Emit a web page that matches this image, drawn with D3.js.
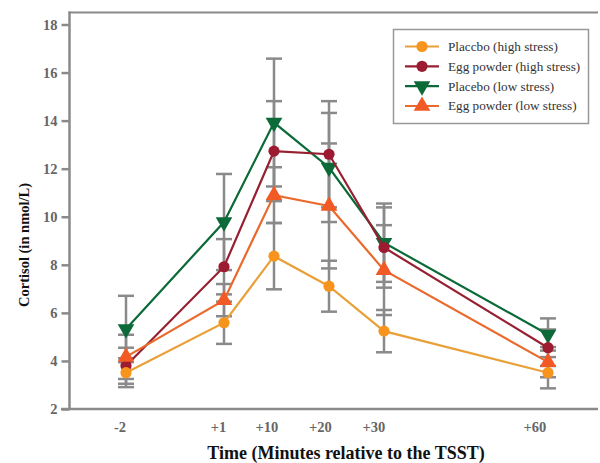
<!DOCTYPE html>
<html>
<head>
<meta charset="utf-8">
<script src="https://cdn.jsdelivr.net/npm/d3@7"></script>
<style>
  html, body { margin: 0; padding: 0; background: #fff; }
  svg { display: block; }
</style>
</head>
<body>
<svg id="chart" width="600" height="463"></svg>
<script>
// ---- data ----
const times = ["-2", "+1", "+10", "+20", "+30", "+60"];
const yTicks = [2, 4, 6, 8, 10, 12, 14, 16, 18];

const placeboHigh     = [3.51, 5.59, 8.36, 7.11, 5.24, 3.51];
const placeboHighErr  = [0.60, 0.88, 1.38, 1.06, 0.88, 0.65];
const eggHigh         = [3.80, 7.92, 12.73, 12.60, 8.72, 4.55];
const eggHighErr      = [0.75, 1.15, 2.08, 2.21, 1.67, 0.76];
const placeboLow      = [5.33, 9.78, 13.92, 12.05, 8.92, 5.10];
const placeboLowErr   = [1.38, 2.00, 2.66, 2.27, 1.63, 0.67];
const eggLow          = [4.17, 6.53, 10.90, 10.45, 7.78, 3.95];
const eggLowErr       = [0.92, 0.67, 1.16, 2.60, 1.87, 0.63];

const seriesNames = ["Placcbo (high stress)", "Egg powder (high stress)", "Placebo (low stress)", "Egg powder (low stress)"];

// ---- setup ----
const svg = d3.select("#chart");
const axisColor = "#8a8a8a";
const serif = "'Liberation Serif', 'Times New Roman', serif";

const x = d3.scaleOrdinal().domain(times).range([126, 224, 274, 329, 384, 548]);
const xLabel = d3.scaleOrdinal().domain(times).range([120, 218.5, 267, 320.5, 374, 535]);
const y = d3.scaleLinear().domain([2, 18]).range([409, 24.5]);

const series = [
  { name: seriesNames[2], values: placeboLow, errs: placeboLowErr, color: "#0b6a38", line: "#0b6a38", shape: "down" },
  { name: seriesNames[1], values: eggHigh, errs: eggHighErr, color: "#9c1b30", line: "#962031", shape: "circle" },
  { name: seriesNames[3], values: eggLow, errs: eggLowErr, color: "#f15a24", line: "#ea6a2c", shape: "up" },
  { name: seriesNames[0], values: placeboHigh, errs: placeboHighErr, color: "#f7941d", line: "#e9a038", shape: "circle" }
];

// ---- axes ----
const yAxis = d3.axisLeft(y).tickValues(yTicks).tickSize(8).tickPadding(4).tickFormat(d3.format("d"));
const yg = svg.append("g").attr("transform", "translate(69.5,0)").call(yAxis);
yg.select(".domain").remove();
yg.selectAll(".tick line").attr("stroke", axisColor).attr("stroke-width", 2.5);
yg.selectAll(".tick text")
  .attr("fill", "#666").attr("font-family", serif).attr("font-weight", "bold").attr("font-size", 14.5)
  .attr("dy", "0.34em");

// frame lines
svg.append("line").attr("x1", 69.5).attr("x2", 69.5).attr("y1", 11.5).attr("y2", 410)
  .attr("stroke", axisColor).attr("stroke-width", 2.5);
svg.append("line").attr("x1", 68.5).attr("x2", 598).attr("y1", 12.5).attr("y2", 12.5)
  .attr("stroke", axisColor).attr("stroke-width", 2);
svg.append("line").attr("x1", 61).attr("x2", 598).attr("y1", 409).attr("y2", 409)
  .attr("stroke", axisColor).attr("stroke-width", 2.5);

// x labels
svg.append("g").selectAll("text").data(times).join("text")
  .attr("x", d => xLabel(d)).attr("y", 432)
  .attr("text-anchor", "middle")
  .attr("fill", "#666").attr("font-family", serif).attr("font-weight", "bold").attr("font-size", 14.5)
  .text(d => d);

// axis titles
svg.append("text")
  .attr("transform", "translate(29,245) rotate(-90)")
  .attr("text-anchor", "middle")
  .attr("font-family", serif).attr("font-weight", "bold").attr("font-size", 14.5).attr("fill", "#111")
  .text("Cortisol (in nmol/L)");
svg.append("text")
  .attr("x", 346).attr("y", 459)
  .attr("text-anchor", "middle")
  .attr("font-family", serif).attr("font-weight", "bold").attr("font-size", 18).attr("fill", "#111")
  .text("Time (Minutes relative to the TSST)");

// ---- error bars ----
const eb = svg.append("g");
series.forEach(s => {
  times.forEach((t, i) => {
    const cx = x(t), hi = y(s.values[i] + s.errs[i]), lo = y(s.values[i] - s.errs[i]);
    eb.append("line").attr("x1", cx).attr("x2", cx).attr("y1", hi).attr("y2", lo)
      .attr("stroke", axisColor).attr("stroke-width", 2.5);
    [hi, lo].forEach(yy => eb.append("line").attr("x1", cx - 8).attr("x2", cx + 8).attr("y1", yy).attr("y2", yy)
      .attr("stroke", axisColor).attr("stroke-width", 2.5));
  });
});

// ---- lines & markers ----
const line = d3.line().x((d, i) => x(times[i])).y(d => y(d));
const triUp = d3.symbol().type(d3.symbolTriangle).size(120);

function drawMarker(g, shape, color, cx, cy) {
  if (shape === "circle") {
    g.append("circle").attr("cx", cx).attr("cy", cy).attr("r", 5.6).attr("fill", color);
  } else {
    g.append("path").attr("d", triUp())
      .attr("transform", `translate(${cx},${cy})` + (shape === "down" ? " rotate(180)" : ""))
      .attr("fill", color);
  }
}

series.forEach(s => {
  const g = svg.append("g");
  g.append("path").datum(s.values).attr("d", line)
    .attr("fill", "none").attr("stroke", s.line).attr("stroke-width", 2.2);
  s.values.forEach((v, i) => drawMarker(g, s.shape, s.color, x(times[i]), y(v)));
});

// ---- legend ----
const legend = svg.append("g");
legend.append("rect").attr("x", 393.5).attr("y", 29.5).attr("width", 195).attr("height", 94)
  .attr("fill", "#fff").attr("stroke", "#999").attr("stroke-width", 1.5);
const legendOrder = [series[3], series[1], series[0], series[2]];
const legendY = d3.scalePoint().domain(legendOrder.map(s => s.name)).range([46.5, 106]);
legendOrder.forEach(s => {
  const ly = legendY(s.name);
  legend.append("line").attr("x1", 405).attr("x2", 439).attr("y1", ly).attr("y2", ly)
    .attr("stroke", s.line).attr("stroke-width", 2.2);
  drawMarker(legend, s.shape, s.color, 422, ly);
  legend.append("text").attr("x", 448).attr("y", ly).attr("dy", "0.33em")
    .attr("font-family", serif).attr("font-size", 13.2).attr("fill", "#333")
    .text(s.name);
});
</script>
</body>
</html>
